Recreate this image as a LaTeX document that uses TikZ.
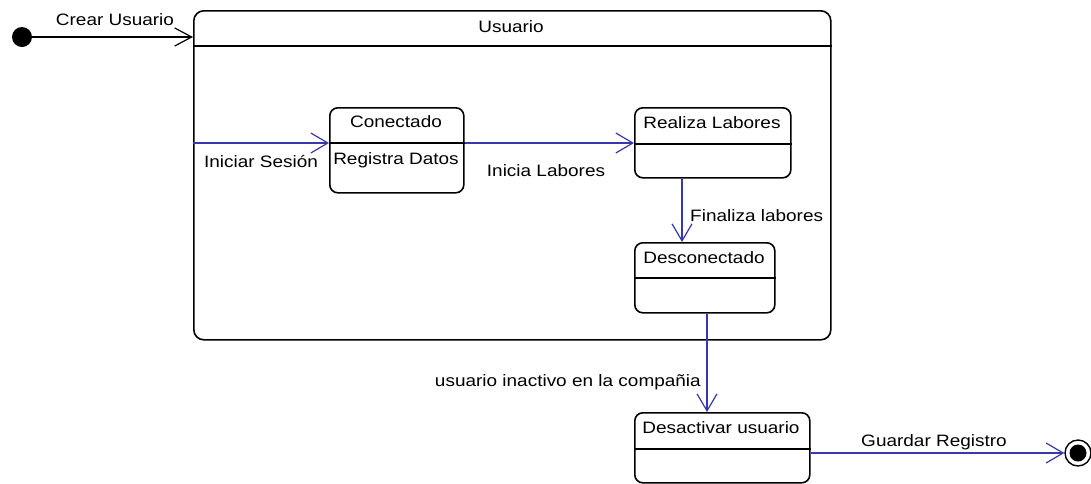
\documentclass[tikz,border=0pt]{standalone}
\usepackage{fontspec}
\setmainfont{Liberation Sans}
\newfontfamily\labfont[FakeStretch=1.15]{Liberation Sans}
\usetikzlibrary{arrows.meta}
\definecolor{ublue}{RGB}{55,55,175}
\tikzset{
  st/.style={draw=black, line width=1.6pt, rounded corners=8pt, anchor=north west, inner sep=0pt},
  hdr/.style={line width=1.4pt, draw=black},
  tr/.style={draw=ublue, line width=1.2pt, -{Straight Barb[length=17pt,width=20pt]}},
  trk/.style={draw=black, line width=1.2pt, -{Straight Barb[length=17pt,width=18pt]}},
  lbl/.style={font=\labfont\fontsize{16.5pt}{19pt}\selectfont, inner sep=0pt, anchor=base},
}
\begin{document}
\begin{tikzpicture}[x=1pt,y=-1pt]
\useasboundingbox (0,0) rectangle (1091,483);
% initial and final states
\node[circle, fill=black, minimum size=20pt, inner sep=0pt] (init) at (22,37) {};
\node[circle, draw=black, line width=1.4pt, fill=white, minimum size=26pt, inner sep=0pt] (fin) at (1078,453) {};
\node[circle, fill=black, minimum size=17pt, inner sep=0pt] (fininner) at (1078,453) {};
% composite state
\node[st, rounded corners=10pt, minimum width=637pt, minimum height=329pt] (usr) at (193,10) {};
\draw[hdr] ([yshift=-36pt]usr.north west) -- ([yshift=-36pt]usr.north east);
\node[lbl] (usrt) at (511,32) {Usuario};
% substates
\node[st, minimum width=134pt, minimum height=85pt] (con) at (329,107) {};
\draw[hdr] ([yshift=-36pt]con.north west) -- ([yshift=-36pt]con.north east);
\node[lbl] (cont) at (396,127) {Conectado};
\node[lbl] (conr) at (396,164) {Registra Datos};
\node[st, minimum width=156pt, minimum height=70pt] (rl) at (634,107) {};
\draw[hdr] ([yshift=-37pt]rl.north west) -- ([yshift=-37pt]rl.north east);
\node[lbl] (rlt) at (712,128) {Realiza Labores};
\node[st, minimum width=140pt, minimum height=70pt] (des) at (634,242) {};
\draw[hdr] ([yshift=-36pt]des.north west) -- ([yshift=-36pt]des.north east);
\node[lbl] (dest) at (704,263) {Desconectado};
\node[st, minimum width=175pt, minimum height=70pt] (dact) at (634,412) {};
\draw[hdr] ([yshift=-37pt]dact.north west) -- ([yshift=-37pt]dact.north east);
\node[lbl] (dactt) at (721,433) {Desactivar usuario};
% transitions
\draw[trk] (init.east) -- ([yshift=-27pt]usr.north west);
\node[lbl] (l1) at (115,25) {Crear Usuario};
\draw[tr] ([yshift=-133pt]usr.north west) -- ([yshift=-36pt]con.north west);
\node[lbl] (l2) at (261,167) {Iniciar Sesión};
\draw[tr] ([yshift=-36pt]con.north east) -- ([yshift=-36pt]rl.north west);
\node[lbl] (l3) at (546,176) {Inicia Labores};
\draw[tr] ([xshift=48pt]rl.south west) -- ([xshift=48pt]des.north west);
\node[lbl, anchor=base west] (l4) at (690,221) {Finaliza labores};
\draw[tr] ([xshift=73pt]des.south west) -- ([xshift=73pt]dact.north west);
\node[lbl, anchor=base east] (l5) at (701,386) {usuario inactivo en la compañia};
\draw[tr] ([yshift=-41pt]dact.north east) -- (fin.west);
\node[lbl] (l6) at (934,446) {Guardar Registro};
\end{tikzpicture}
\end{document}
